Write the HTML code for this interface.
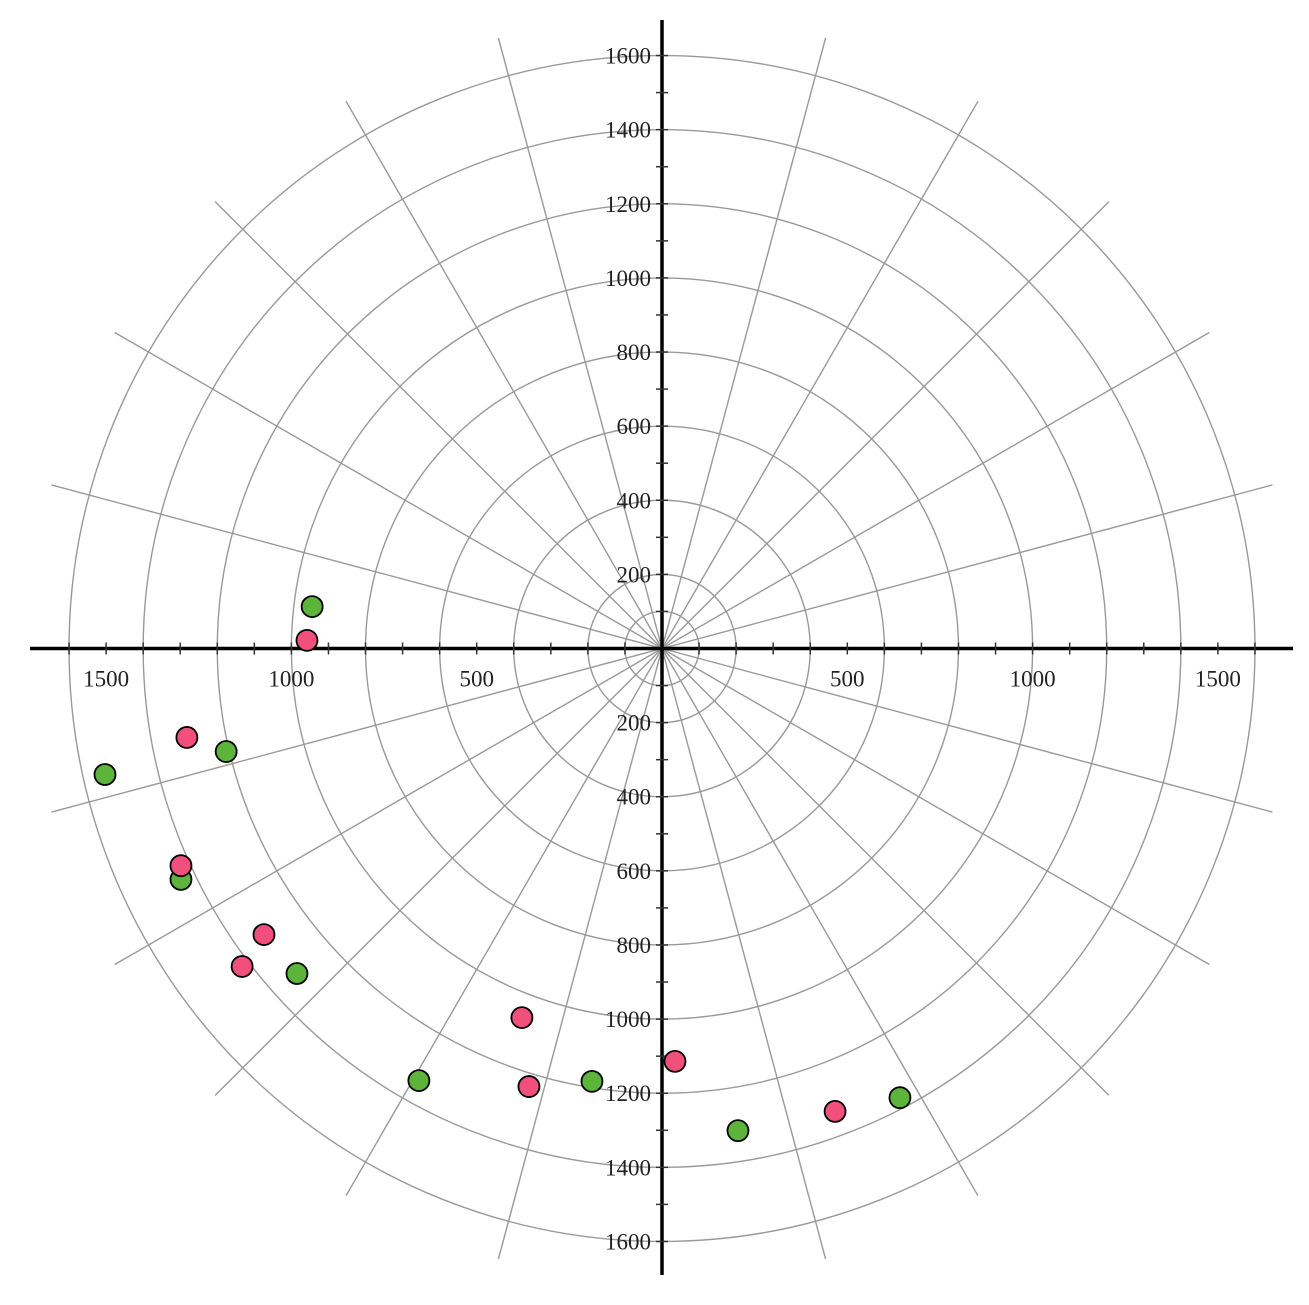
<!DOCTYPE html>
<html><head><meta charset="utf-8"><style>body{margin:0;background:#fff}svg{display:block}text{font-family:"Liberation Serif",serif;font-size:23px;fill:#222}</style></head>
<body>
<svg id="chart" width="1309" height="1305" viewBox="0 0 1309 1305" xmlns="http://www.w3.org/2000/svg">
<g id="grid"></g>
<g id="axes"></g>
<g id="pts"></g>
</svg>
<script>
const ringValues=[100,200,400,600,800,1000,1200,1400,1600];
const xTickLabels=[500,1000,1500];
const yTickLabels=[200,400,600,800,1000,1200,1400,1600];
const greenX=[-944,-1503,-1176,-1298,-985,-656,-189,205,642];
const greenY=[113,-340,-278,-623,-877,-1166,-1168,-1301,-1212];
const redX=[-958,-1282,-1298,-1074,-1133,-378,-359,35,467];
const redY=[22,-240,-586,-772,-858,-996,-1182,-1114,-1249];
const cx=662,cy=648.5,k=0.3706;
const sx=v=>cx+v*k, sy=v=>cy-v*k;
const NS="http://www.w3.org/2000/svg";
function mk(t,a,p){const e=document.createElementNS(NS,t);for(const q in a)e.setAttribute(q,a[q]);p.appendChild(e);return e;}
const grid=document.getElementById('grid'),axes=document.getElementById('axes'),pts=document.getElementById('pts');
ringValues.forEach(r=>{const c=mk('circle',{cx:cx,cy:cy,r:r*k,fill:'none',stroke:'#999','stroke-width':1.4},grid);

});
for(let a=0;a<360;a+=15){if(a%90===0)continue;const t=a*Math.PI/180;
const l=mk('line',{x1:cx,y1:cy,x2:cx+632*Math.cos(t),y2:cy-632*Math.sin(t),stroke:'#999','stroke-width':1.4},grid);

}
const xa=mk('line',{x1:30,y1:cy,x2:1293,y2:cy,stroke:'#000','stroke-width':3.5},axes);


const ya=mk('line',{x1:cx,y1:20,x2:cx,y2:1275,stroke:'#000','stroke-width':3.5},axes);


for(let v=-1600;v<=1600;v+=100){if(v===0)continue;
const a=mk('line',{x1:sx(v),y1:cy-6,x2:sx(v),y2:cy+6,stroke:'#333','stroke-width':1.5},axes);


const b=mk('line',{x1:cx-6,y1:sy(v),x2:cx+6,y2:sy(v),stroke:'#333','stroke-width':1.5},axes);

}
xTickLabels.forEach(v=>{[-v,v].forEach(s=>{const t=mk('text',{x:sx(s),y:cy+38,'text-anchor':'middle'},axes);t.textContent=v;

});});
yTickLabels.forEach(v=>{[-v,v].forEach(s=>{const t=mk('text',{x:cx-11,y:sy(s)+8,'text-anchor':'end'},axes);t.textContent=v;

});});
function series(X,Y,col,name){X.forEach((x,i)=>{const c=mk('circle',{cx:sx(x),cy:sy(Y[i]),r:10.5,fill:col,stroke:'#000','stroke-width':1.8},pts);

});}
series(greenX,greenY,'#5db43a','green');
series(redX,redY,'#f2507c','red');
</script>
</body></html>
